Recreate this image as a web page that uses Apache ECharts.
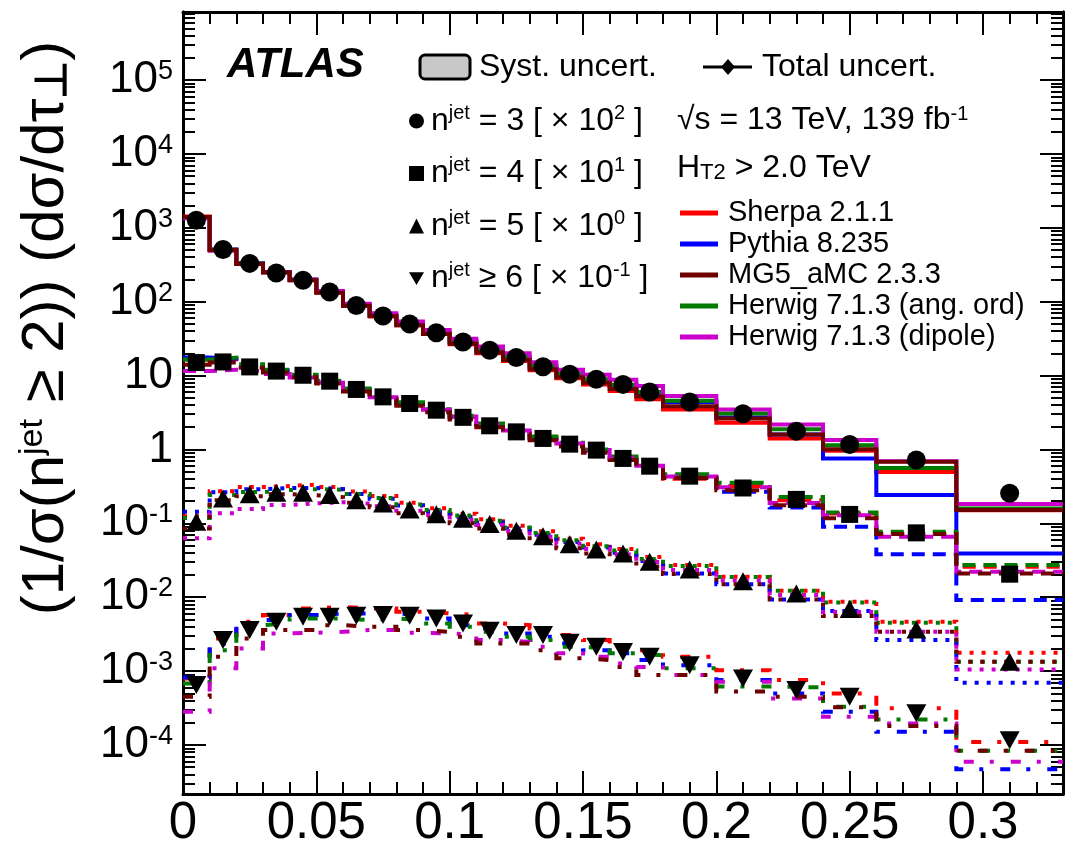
<!DOCTYPE html>
<html><head><meta charset="utf-8">
<script src="https://cdn.jsdelivr.net/npm/echarts@6/dist/echarts.min.js"></script>
<style>html,body{margin:0;padding:0;background:#fff}#c{width:1065px;height:846px}</style>
</head><body><div id="c"></div>
<script>
// ---------------- DATA ----------------
const binEdges = [0,0.01,0.02,0.03,0.04,0.05,0.06,0.07,0.08,0.09,0.10,0.11,0.12,0.13,0.14,0.15,0.16,0.17,0.18,0.20,0.22,0.24,0.26,0.29,0.33];
const binCenters = [0.005,0.015,0.025,0.035,0.045,0.055,0.065,0.075,0.085,0.095,0.105,0.115,0.125,0.135,0.145,0.155,0.165,0.175,0.19,0.21,0.23,0.25,0.275,0.31];
const xTickLabels = ['0','0.05','0.1','0.15','0.2','0.25','0.3'];
const yDecadeTicks = [1e-4,1e-3,1e-2,1e-1,1,10,1e2,1e3,1e4,1e5];
const modelNames = ['Sherpa 2.1.1','Pythia 8.235','MG5_aMC 2.3.3','Herwig 7.1.3 (ang. ord)','Herwig 7.1.3 (dipole)'];

// plotted values (already multiplied by the legend scale factor)
// n^jet = 3  [x 10^2]
const data3   = [1270,510,330,245,195,135,89,64,50,38,28.5,22,17.6,13.2,10.4,8.9,7.6,6.0,4.4,3.05,1.77,1.17,0.72,0.255];
const sherpa3 = [1420,505,325,248,195,133,88,63,48,36.5,26.5,20,15.8,11.8,9.2,7.6,6.2,4.8,3.48,2.29,1.41,0.96,0.497,0.15];
const pythia3 = [1400,510,332,252,198,135,89,65,49.5,37.5,28.5,22,17.2,13.0,10.2,8.6,7.3,5.8,4.4,2.7,1.6,0.755,0.241,0.039];
const mg5_3   = [1400,500,325,250,195,132,88,64,48,36.5,27,20.5,16.2,12.2,9.5,8.0,6.6,5.2,3.85,2.63,1.60,1.01,0.68,0.151];
const hwAng3  = [1380,505,330,250,198,136,90,66,50,38,29,22.5,17.8,13.5,10.6,8.9,7.5,6.0,4.55,3.07,1.87,1.14,0.563,0.159];
const hwDip3  = [1350,490,325,250,200,140,94,70,54,41.5,31.5,24.8,20,15.2,12,10.3,8.8,7.2,5.31,3.48,2.18,1.34,0.69,0.182];
// n^jet = 4  [x 10^1]
const data4   = [15.0,15.3,13.1,11.5,10.1,8.4,6.49,5.15,4.19,3.40,2.72,2.09,1.73,1.41,1.18,0.98,0.756,0.594,0.435,0.301,0.211,0.132,0.0743,0.0205];
const sherpa4 = [16.5,16.5,13.6,11.4,9.7,8.0,6.3,5.0,4.1,3.4,2.75,2.2,1.78,1.45,1.2,0.96,0.78,0.61,0.40,0.319,0.206,0.136,0.073,0.0258];
const pythia4 = [17.5,16.8,13.8,11.8,10.0,8.3,6.5,5.2,4.2,3.4,2.7,2.15,1.74,1.42,1.17,0.95,0.76,0.59,0.43,0.267,0.164,0.0897,0.0383,0.00914];
const mg5_4   = [14.0,15.0,12.8,11.0,9.5,7.8,6.1,4.8,3.9,3.2,2.55,2.0,1.62,1.33,1.1,0.9,0.72,0.56,0.41,0.281,0.176,0.117,0.0715,0.021];
const hwAng4  = [16.5,17.5,14.2,12.0,10.3,8.5,6.7,5.3,4.35,3.5,2.85,2.25,1.82,1.5,1.23,1.0,0.8,0.63,0.46,0.353,0.228,0.140,0.0767,0.0272];
const hwDip4  = [11.5,12.0,11.5,10.5,9.4,8.0,6.4,5.1,4.2,3.45,2.8,2.2,1.8,1.45,1.2,0.98,0.77,0.6,0.43,0.309,0.189,0.129,0.0656,0.0221];
// n^jet = 5  [x 10^0]
const data5   = [0.105,0.217,0.248,0.259,0.259,0.241,0.206,0.186,0.154,0.133,0.115,0.0976,0.0792,0.0671,0.0523,0.0443,0.0392,0.0301,0.0238,0.0165,0.0112,0.0069,0.00366,0.00134];
const sherpa5 = [0.125,0.272,0.31,0.32,0.335,0.31,0.27,0.235,0.19,0.16,0.135,0.114,0.093,0.078,0.062,0.052,0.045,0.035,0.0272,0.0189,0.0122,0.00867,0.00465,0.00177];
const pythia5 = [0.143,0.264,0.29,0.30,0.30,0.29,0.25,0.215,0.175,0.145,0.122,0.103,0.085,0.07,0.056,0.047,0.04,0.031,0.021,0.015,0.00933,0.00649,0.00263,0.000695];
const mg5_5   = [0.0853,0.206,0.233,0.248,0.24,0.226,0.19,0.165,0.137,0.117,0.1,0.085,0.07,0.058,0.046,0.039,0.034,0.026,0.0206,0.015,0.00933,0.00555,0.0034,0.00134];
const hwAng5  = [0.118,0.241,0.265,0.282,0.29,0.285,0.25,0.22,0.18,0.152,0.128,0.108,0.088,0.074,0.059,0.049,0.043,0.033,0.0265,0.0188,0.0122,0.0085,0.0045,0.00134];
const hwDip5  = [0.0626,0.137,0.156,0.177,0.186,0.193,0.185,0.17,0.148,0.13,0.112,0.095,0.079,0.066,0.053,0.045,0.038,0.03,0.0233,0.0169,0.0107,0.0063,0.0034,0.00105];
// n^jet >= 6  [x 10^-1]
const data6   = [0.000647,0.00263,0.00359,0.00465,0.00543,0.00543,0.0056,0.00573,0.0056,0.00516,0.00442,0.00351,0.00307,0.00307,0.00241,0.00213,0.00182,0.00156,0.0012,0.000796,0.000553,0.000449,0.000268,0.000116];
const sherpa6 = [0.000796,0.00277,0.00465,0.00573,0.00705,0.00741,0.00705,0.00705,0.00634,0.00604,0.00573,0.00442,0.00419,0.00378,0.00307,0.00263,0.00225,0.00192,0.00156,0.00103,0.000755,0.000499,0.000313,0.00011];
const pythia6 = [0.00082,0.00237,0.00442,0.0049,0.00573,0.00604,0.00604,0.00604,0.00573,0.00516,0.00419,0.00378,0.00324,0.00291,0.00237,0.00192,0.00174,0.00141,0.0012,0.000755,0.000499,0.000281,0.000151,0.0000468];
const mg5_6   = [0.000449,0.00156,0.00277,0.00359,0.00359,0.00419,0.00398,0.00398,0.00359,0.0034,0.00291,0.00237,0.00237,0.00192,0.00149,0.00141,0.00114,0.000883,0.000883,0.00053,0.000449,0.000323,0.00018,0.0000835];
const hwAng6  = [0.000682,0.00192,0.0042,0.00442,0.00516,0.00516,0.0049,0.00516,0.0049,0.00442,0.00398,0.0034,0.00291,0.00263,0.00213,0.00203,0.00174,0.00164,0.00109,0.000619,0.000601,0.000329,0.000222,0.0000835];
const hwDip6  = [0.000281,0.00109,0.00203,0.00324,0.0033,0.0034,0.00359,0.00359,0.0033,0.00324,0.00307,0.00263,0.00249,0.00213,0.00174,0.00156,0.00127,0.00114,0.000883,0.00072,0.000427,0.000241,0.000196,0.0000593];

// ---------------- STYLE ----------------
const F = '"Liberation Sans", Arial, Helvetica, sans-serif';
const modelColors = ['#ff0000','#0000ff','#6e0000','#007a00','#cc00cc'];
const drawOrder = [0,1,3,4,2];
const groups = [
  {key:'n3', data:data3, models:[sherpa3,pythia3,mg5_3,hwAng3,hwDip3], dash:'solid', symbol:'circle', size:19},
  {key:'n4', data:data4, models:[sherpa4,pythia4,mg5_4,hwAng4,hwDip4], dash:[13,8], symbol:'rect', size:17},
  {key:'n5', data:data5, models:[sherpa5,pythia5,mg5_5,hwAng5,hwDip5], dash:[4,8], symbol:'triangle', size:[20,18]},
  {key:'n6', data:data6, models:[sherpa6,pythia6,mg5_6,hwAng6,hwDip6], dash:[10,16,4,17], symbol:'path://M0,0L20,0L10,17Z', size:[20,18]}
];
const groupLegend = {
  n3:'{t|n}{sup|jet}{t| = 3 [ \u00d7 10}{sup|2}{t| ]}',
  n4:'{t|n}{sup|jet}{t| = 4 [ \u00d7 10}{sup|1}{t| ]}',
  n5:'{t|n}{sup|jet}{t| = 5 [ \u00d7 10}{sup|0}{t| ]}',
  n6:'{t|n}{sup|jet}{t| \u2265 6 [ \u00d7 10}{sup|-1}{t| ]}'
};

const yMin = 2.17e-5, yMax = 8.34e5;
const yMinor = [];
for (let k = -5; k <= 5; k++) for (let m = 2; m <= 9; m++) {
  const v = m * Math.pow(10, k);
  if (v > yMin && v < yMax) yMinor.push(v);
}

function stepData(vals) {
  const pts = vals.map((v, i) => [binEdges[i], v]);
  pts.push([binEdges[binEdges.length - 1], vals[vals.length - 1]]);
  return pts;
}

const series = [];
groups.forEach(g => {
  drawOrder.forEach(mi => {
    series.push({
      type:'line', name:modelNames[mi], step:'end', showSymbol:false, symbol:'none',
      xAxisIndex:0, yAxisIndex:0, data:stepData(g.models[mi]),
      itemStyle:{color:modelColors[mi]},
      lineStyle:{color:modelColors[mi], width:4, type:g.dash, cap:'butt', join:'miter'},
      z:2, silent:true, animation:false
    });
  });
});
groups.forEach(g => {
  series.push({
    type:'scatter', name:g.key, symbol:g.symbol, symbolSize:g.size,
    xAxisIndex:0, yAxisIndex:0,
    data:binCenters.map((x, i) => [x, g.data[i]]),
    itemStyle:{color:'#000', opacity:1}, z:5, silent:true, animation:false
  });
});

function yLabel(v) {
  const e = Math.round(Math.log10(v));
  if (e === 0) return '{b|1}';
  if (e === 1) return '{b|10}';
  return '{b|10}{s|' + e + '}';
}
const yRich = {
  b:{fontSize:44, fontFamily:F, color:'#000', lineHeight:44},
  s:{fontSize:27, fontFamily:F, color:'#000', verticalAlign:'top', lineHeight:24}
};
const axisLine = {show:true, lineStyle:{color:'#000', width:3}};
function yAxisDef(pos, major) {
  return {
    type:'log', logBase:10, min:yMin, max:yMax, position:pos, gridIndex:0,
    axisLine:axisLine,
    splitLine:{show:false}, minorTick:{show:false}, minorSplitLine:{show:false},
    axisTick:{show:true, inside:true, length: major ? 23 : 12, lineStyle:{color:'#000', width:2},
              customValues: major ? yDecadeTicks : yMinor},
    axisLabel:(major && pos === 'left') ? {
      show:true, customValues:yDecadeTicks, formatter:yLabel, rich:yRich, margin:10, color:'#000'
    } : {show:false}
  };
}
function xAxisDef(pos, labels) {
  return {
    type:'value', min:0, max:0.33, interval:0.05, position:pos, gridIndex:0,
    axisLine:axisLine, splitLine:{show:false},
    axisTick:{show:true, inside:true, length:23, lineStyle:{color:'#000', width:2}},
    minorTick:{show:true, splitNumber:5, length:12, lineStyle:{color:'#000', width:2}},
    axisLabel: labels ? {
      show:true, fontSize:51, fontFamily:F, color:'#000', margin:4,
      showMaxLabel:false,
      formatter:v => { const i = Math.round(v / 0.05); return (Math.abs(v - i*0.05) < 1e-6 && i < xTickLabels.length) ? xTickLabels[i] : ''; }
    } : {show:false}
  };
}

const option = {
  backgroundColor:'#fff',
  animation:false,
  grid:{left:183, right:2, top:12, bottom:52, containLabel:false, outerBoundsMode:'none'},
  xAxis:[xAxisDef('bottom', true), xAxisDef('top', false)],
  yAxis:[yAxisDef('left', true), yAxisDef('left', false), yAxisDef('right', true), yAxisDef('right', false)],
  legend:[
    {
      orient:'vertical', left:409, top:103, padding:0, itemGap:18.5, itemWidth:15, itemHeight:15,
      selectedMode:false,
      data:[{name:'n3', icon:'circle'},{name:'n4', icon:'rect'},{name:'n5', icon:'triangle'},{name:'n6', icon:'path://M0,0L20,0L10,17Z'}],
      formatter:name => groupLegend[name],
      textStyle:{padding:[0,0,0,2], rich:{
        t:{fontSize:32, fontFamily:F, color:'#000', lineHeight:36},
        sup:{fontSize:20, fontFamily:F, color:'#000', verticalAlign:'top', lineHeight:20}
      }},
      itemStyle:{color:'#000'}
    },
    {
      orient:'vertical', left:680, top:198, padding:0, itemGap:1, itemWidth:38, itemHeight:5,
      selectedMode:false, icon:'rect',
      data:modelNames,
      textStyle:{fontSize:29, fontFamily:F, color:'#000', lineHeight:30, padding:[0,0,0,5]}
    }
  ],
  graphic:[
    {type:'text', x:227, y:65, style:{text:'ATLAS', font:'italic bold 42px ' + F, fill:'#000', verticalAlign:'middle'}},
    {type:'rect', shape:{x:420, y:55, width:50, height:24, r:5}, style:{fill:'#c8c8c8', stroke:'#000', lineWidth:3}},
    {type:'text', x:479, y:67, style:{text:'Syst. uncert.', font:'32px ' + F, fill:'#000', verticalAlign:'middle'}},
    {type:'line', shape:{x1:703, y1:67, x2:752, y2:67}, style:{stroke:'#000', lineWidth:3}},
    {type:'polygon', shape:{points:[[728,59],[735,67],[728,75],[721,67]]}, style:{fill:'#000'}},
    {type:'text', x:762, y:67, style:{text:'Total uncert.', font:'32px ' + F, fill:'#000', verticalAlign:'middle'}},
    {type:'text', x:677, y:120, style:{text:'\u221as = 13 TeV, 139 fb{sup|-1}', font:'32px ' + F, fill:'#000', verticalAlign:'middle',
      rich:{sup:{fontSize:20, fontFamily:F, fill:'#000', verticalAlign:'top', lineHeight:20}}}},
    {type:'text', x:677, y:168, style:{text:'H{sub|T2} > 2.0 TeV', font:'32px ' + F, fill:'#000', verticalAlign:'middle',
      rich:{sub:{fontSize:22, fontFamily:F, fill:'#000', verticalAlign:'bottom', lineHeight:20}}}},
    {type:'text', x:46, y:328, rotation:Math.PI/2, style:{
      text:'(1/\u03c3(n{sup|jet} \u2265 2)) (d\u03c3/d\u03c4{sub|\u22a5})', font:'60px ' + F, fill:'#000',
      align:'center', verticalAlign:'middle',
      rich:{sup:{fontSize:34, fontFamily:F, fill:'#000', verticalAlign:'top', lineHeight:30},
            sub:{fontSize:44, fontFamily:F, fontWeight:'bold', fill:'#000', verticalAlign:'bottom', lineHeight:38}}
    }}
  ],
  series:series
};
const chart = echarts.init(document.getElementById('c'), null, {renderer:'canvas'});
chart.setOption(option);
</script>
</body></html>
